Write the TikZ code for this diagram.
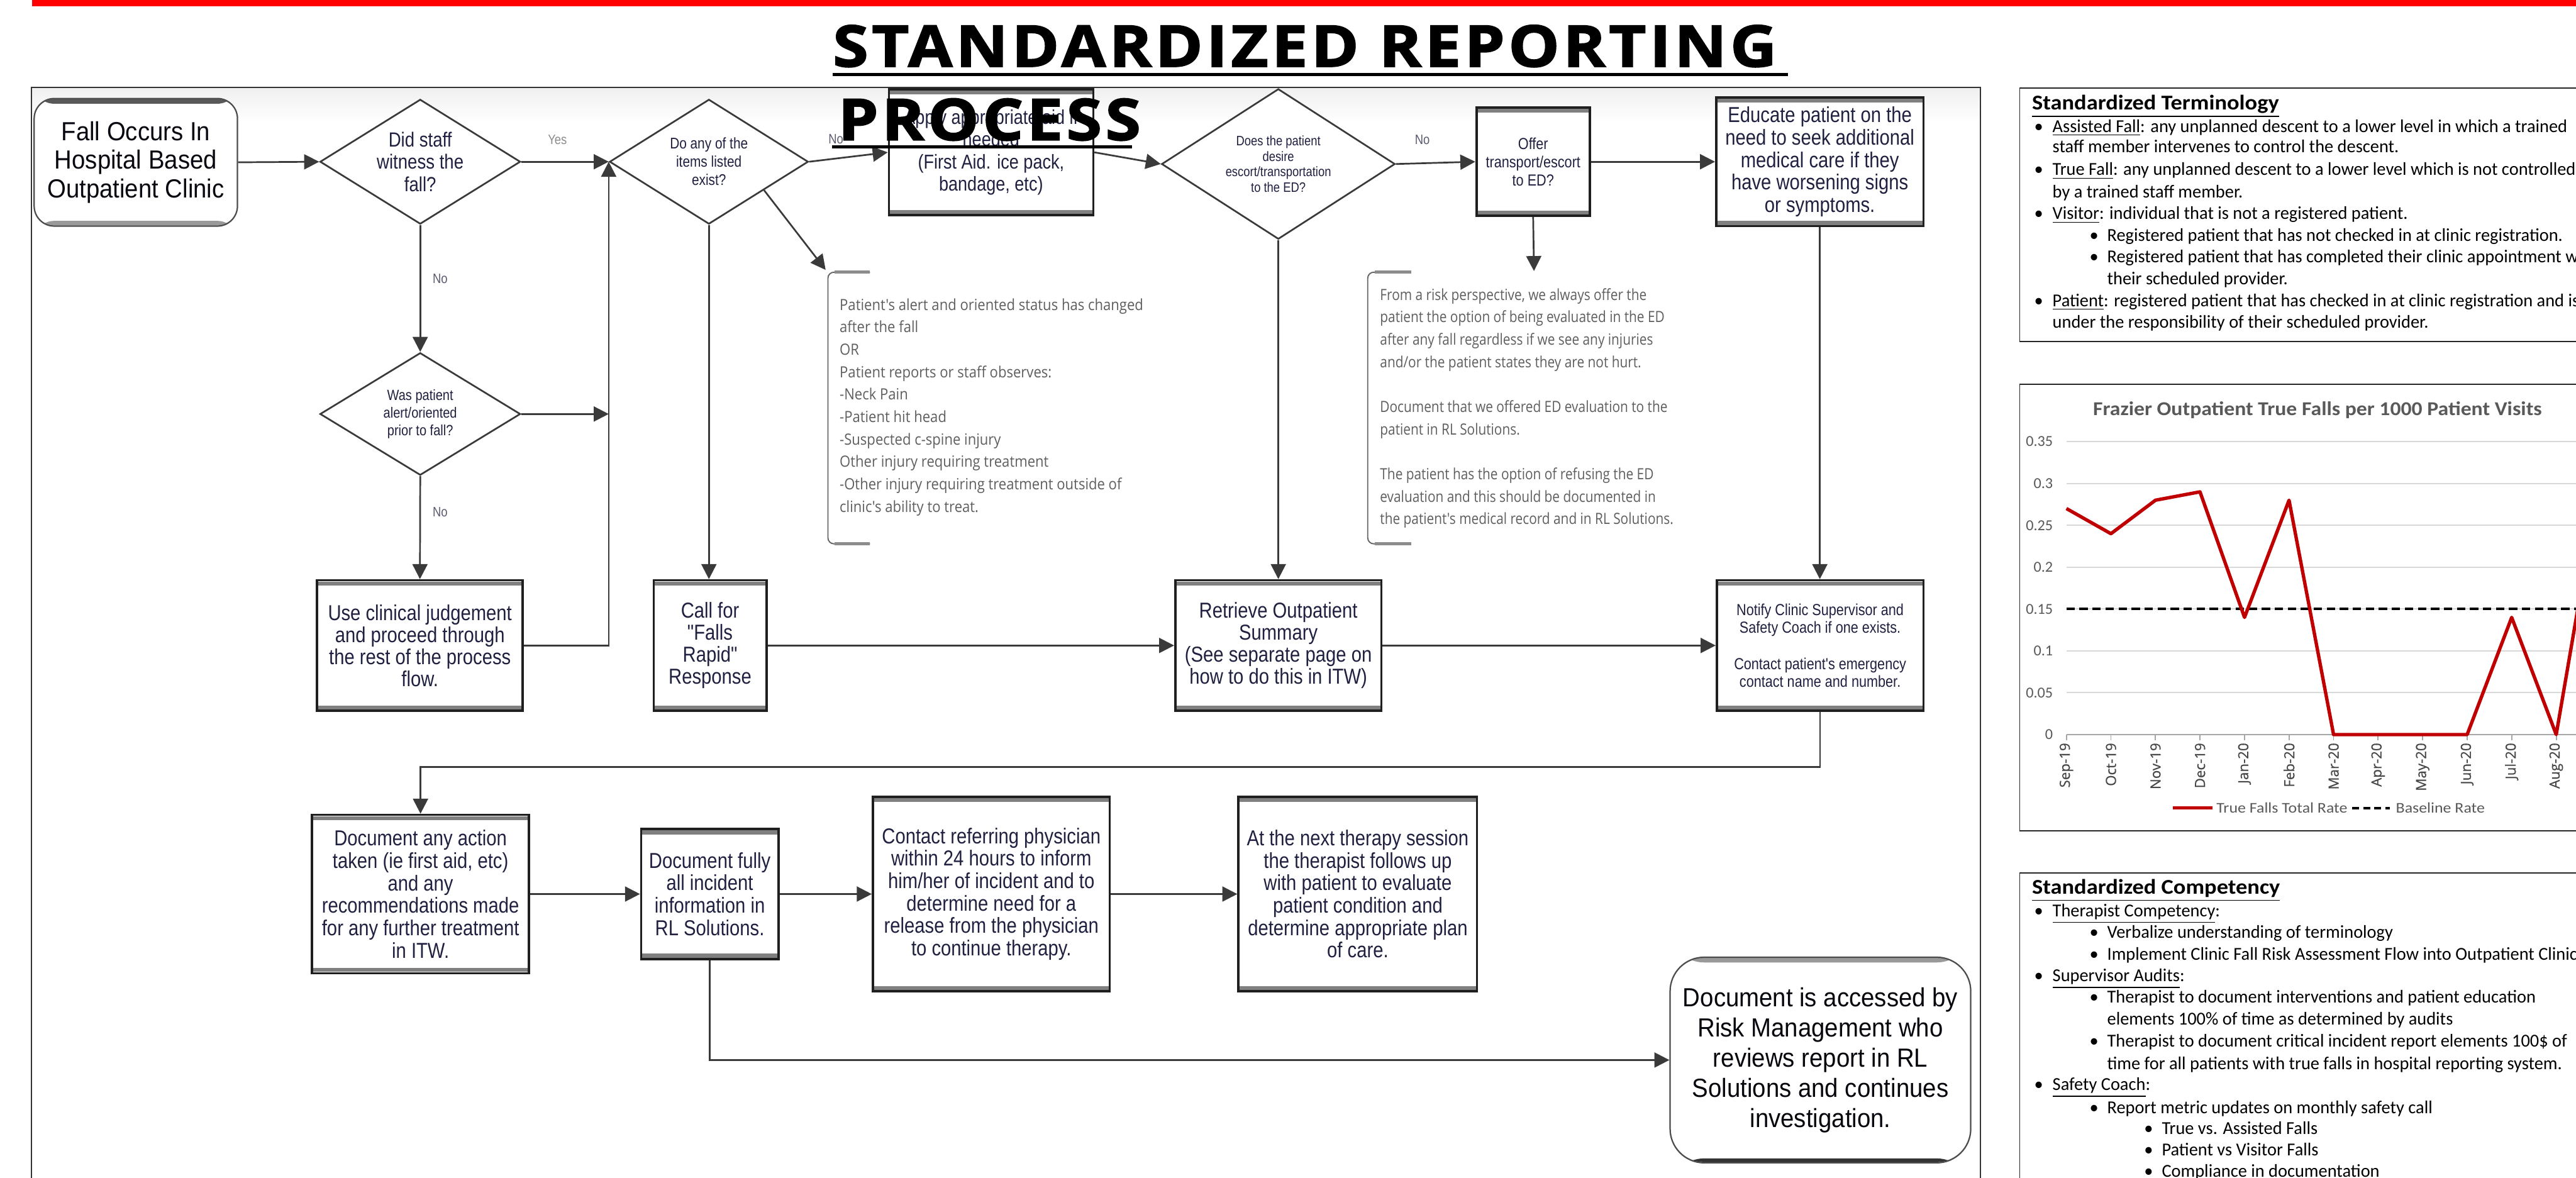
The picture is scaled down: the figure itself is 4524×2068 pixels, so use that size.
\documentclass[tikz,border=0pt]{standalone}
\usepackage{fontspec}
\setmainfont{Liberation Sans}
\newfontfamily\flowfont[FakeStretch=0.85]{Liberation Sans}
\newfontfamily\bigfont[FakeStretch=0.92]{Liberation Sans}
\newfontfamily\annfont[FakeStretch=0.9]{Open Sans}
\newfontfamily\annfontb[FakeStretch=0.85]{Open Sans}
\newfontfamily\calfont[FakeStretch=0.98]{Carlito}
\newfontfamily\calhead[FakeStretch=1.09]{Carlito}
\newfontfamily\calchart[FakeStretch=1.08]{Carlito}
\newfontfamily\callegend[FakeStretch=1.1]{Carlito}
\newfontfamily\calaxis{Carlito}
\newfontfamily\axisfont[FakeBold=0.6]{Open Sans}
\newfontfamily\titlefont[FakeStretch=1.12,FakeBold=2,LetterSpace=6]{Open Sans}
\usetikzlibrary{shapes.geometric,arrows.meta,calc}
\newcommand\setfs[2]{\fontsize{#1}{#2}\selectfont}
\definecolor{navy}{HTML}{202040}
\definecolor{annot}{HTML}{5F5F5F}
\definecolor{chartgray}{HTML}{595959}
\definecolor{gridgray}{HTML}{D9D9D9}
\definecolor{chartred}{HTML}{C00000}
\definecolor{conn}{HTML}{3A3A3A}
\definecolor{lblcol}{HTML}{5A5A70}
\definecolor{topred}{HTML}{FF0000}
\begin{document}
\begin{tikzpicture}[x=0.01cm,y=-0.01cm,
  boxsize/.style 2 args={minimum width=#1*0.01cm,minimum height=#2*0.01cm},
  flowtxt/.style={text=navy,align=center,inner sep=0pt},
  procbox/.style={rectangle,draw=black!88,line width=1.15pt,fill=white,flowtxt,
    path picture={
      \fill[black!50] ([yshift=-0.6pt]path picture bounding box.north west) rectangle ([yshift=-2.6pt]path picture bounding box.north east);
      \fill[black!50] ([yshift=0.6pt]path picture bounding box.south west) rectangle ([yshift=2.6pt]path picture bounding box.south east);}},
  decision/.style={diamond,draw=conn,line width=0.85pt,fill=white,aspect=1.6,flowtxt},
  startbox/.style={rectangle,rounded corners=10pt,draw=black!70,line width=0.7pt,fill=white,align=center,inner sep=0pt,text=black!75!navy,
    path picture={
      \fill[black!65] ([yshift=-0.3pt]path picture bounding box.north west) rectangle ([yshift=-2.6pt]path picture bounding box.north east);
      \fill[black!40] ([yshift=0.3pt]path picture bounding box.south west) rectangle ([yshift=2.6pt]path picture bounding box.south east);}},
  riskbox/.style={rectangle,rounded corners=17pt,draw=black!70,line width=0.7pt,fill=white,align=center,inner sep=0pt,text=black!80!navy,
    path picture={
      \fill[black!40] ([yshift=-0.3pt]path picture bounding box.north west) rectangle ([yshift=-2.6pt]path picture bounding box.north east);
      \fill[black!80] ([yshift=0.3pt]path picture bounding box.south west) rectangle ([yshift=2.2pt]path picture bounding box.south east);}},
  arr/.style={draw=conn,line width=0.85pt,-{Triangle[length=7.5pt,width=7.5pt]}},
  lbl/.style={text=lblcol,font=\flowfont\setfs{6.8}{8},inner sep=0pt},
  anntext/.style={text=annot,font=\annfont\setfs{7.7}{11.2},align=left,inner sep=0pt},
  bracev/.style={draw=black!60,line width=0.6pt,rounded corners=3pt},
  braceend/.style={draw=black!45,line width=1.5pt},
  ptxt/.style={font=\calfont\setfs{9.1}{10},inner sep=0pt,anchor=base west},
  phead/.style={font=\calhead\bfseries\setfs{10.5}{11},inner sep=0pt,anchor=base west},
  pbox/.style={draw=black!85,line width=0.6pt},
  ctxt/.style={text=chartgray,inner sep=0pt},
]
\useasboundingbox (0,0) rectangle (4524,2068);
\clip (0,0) rectangle (4524,2068);
\fill[white] (0,0) rectangle (4524,2068);
% top red bar
\fill[topred] (56,0) rectangle (4524,11);
% flowchart frame
\shade[top color=black!6,bottom color=white] (56,155) rectangle (3477,215);
\draw[black!80,line width=0.6pt] (55,2080) -- (55,154) -- (3478,154) -- (3478,2080);

% ---------------- right panel ----------------
\draw[pbox] (3547,155) rectangle (4700,600);
\draw[pbox] (3547,675) rectangle (4700,1459);
\draw[pbox] (3547,1533) rectangle (4700,2200);

\node[phead] (th) at (3568,193) {\underline{Standardized Terminology}};
\node[ptxt] (tb1) at (3572,232) {•};
\node[ptxt] (tt1) at (3604,232) {\underline{Assisted Fall}: any unplanned descent to a lower level in which a trained};
\node[ptxt] (tt2) at (3604,268) {staff member intervenes to control the descent.};
\node[ptxt] (tb3) at (3572,308) {•};
\node[ptxt] (tt3) at (3604,308) {\underline{True Fall}: any unplanned descent to a lower level which is not controlled};
\node[ptxt] (tt4) at (3604,347) {by a trained staff member.};
\node[ptxt] (tb5) at (3572,385) {•};
\node[ptxt] (tt5) at (3604,385) {\underline{Visitor}: individual that is not a registered patient.};
\node[ptxt] (tb6) at (3669,423) {•};
\node[ptxt] (tt6) at (3700,423) {Registered patient that has not checked in at clinic registration.};
\node[ptxt] (tb7) at (3669,461) {•};
\node[ptxt] (tt7) at (3700,461) {Registered patient that has completed their clinic appointment with};
\node[ptxt] (tt8) at (3700,500) {their scheduled provider.};
\node[ptxt] (tb9) at (3572,538) {•};
\node[ptxt] (tt9) at (3604,538) {\underline{Patient}: registered patient that has checked in at clinic registration and is};
\node[ptxt] (tt10) at (3604,576) {under the responsibility of their scheduled provider.};

% chart
\node[ctxt,font=\calchart\bfseries\setfs{9.8}{11}] (ctitle) at (4070,720) {Frazier Outpatient True Falls per 1000 Patient Visits};
\foreach \v in {0.05,0.1,0.15,0.2,0.25,0.3,0.35}
  \draw[gridgray,line width=0.6pt] (3629,{1290-\v*1470}) -- (4700,{1290-\v*1470});
\draw[black!35,line width=0.6pt] (3629,1290) -- (4700,1290);
\foreach \v/\t [count=\k] in {0/0,0.05/0.05,0.1/0.1,0.15/0.15,0.2/0.2,0.25/0.25,0.3/0.3,0.35/0.35}
  \node[ctxt,anchor=east,font=\calaxis\setfs{7.6}{8}] (yl\k) at (3606,{1290-\v*1470}) {\t};
\foreach \m [count=\k from 0] in {Sep-19,Oct-19,Nov-19,Dec-19,Jan-20,Feb-20,Mar-20,Apr-20,May-20,Jun-20,Jul-20,Aug-20,Sep-20}{
  \draw[black!35,line width=0.6pt] ({3629+\k*78.2},1290) -- ({3629+\k*78.2},1300);
  \node[text=black!72,inner sep=0pt,rotate=90,anchor=east,font=\axisfont\setfs{7}{8}] (xl\k) at ({3629+\k*78.2},1304) {\m};
}
\draw[black,line width=1.3pt,dash pattern=on 4.2pt off 2.3pt] (3629,1069.5) -- (4700,1069.5);
\draw[chartred,line width=1.7pt,line join=round] (3629,893) -- (3707.2,937.2) -- (3785.4,878.4) -- (3863.6,863.7) -- (3941.8,1084.2) -- (4020,878.4) -- (4098.2,1290) -- (4176.4,1290) -- (4254.6,1290) -- (4332.8,1290) -- (4411,1084.2) -- (4489.2,1290) -- (4567.4,834.3);
\draw[chartred,line width=1.7pt] (3816,1419) -- (3885,1419);
\node[ctxt,anchor=west,font=\callegend\setfs{7.4}{9}] (lg1) at (3892,1419) {True Falls Total Rate};
\draw[black,line width=1.1pt,dash pattern=on 3.5pt off 2pt] (4131,1419) -- (4197,1419);
\node[ctxt,anchor=west,font=\callegend\setfs{7.4}{9}] (lg2) at (4207,1419) {Baseline Rate};

\node[phead] (ch) at (3568,1570) {\underline{Standardized Competency}};
\node[ptxt] (cb1) at (3572,1610) {•};
\node[ptxt] (ct1) at (3604,1610) {\underline{Therapist Competency}:};
\node[ptxt] (cb2) at (3669,1647) {•};
\node[ptxt] (ct2) at (3700,1647) {Verbalize understanding of terminology};
\node[ptxt] (cb3) at (3669,1686) {•};
\node[ptxt] (ct3) at (3700,1686) {Implement Clinic Fall Risk Assessment Flow into Outpatient Clinic};
\node[ptxt] (cb4) at (3572,1724) {•};
\node[ptxt] (ct4) at (3604,1724) {\underline{Supervisor Audits}:};
\node[ptxt] (cb5) at (3669,1761) {•};
\node[ptxt] (ct5) at (3700,1761) {Therapist to document interventions and patient education};
\node[ptxt] (ct6) at (3700,1800) {elements 100\% of time as determined by audits};
\node[ptxt] (cb7) at (3669,1838) {•};
\node[ptxt] (ct7) at (3700,1838) {Therapist to document critical incident report elements 100\$ of};
\node[ptxt] (ct8) at (3700,1878) {time for all patients with true falls in hospital reporting system.};
\node[ptxt] (cb9) at (3572,1915) {•};
\node[ptxt] (ct9) at (3604,1915) {\underline{Safety Coach}:};
\node[ptxt] (cb10) at (3669,1955) {•};
\node[ptxt] (ct10) at (3700,1955) {Report metric updates on monthly safety call};
\node[ptxt] (cb11) at (3765,1992) {•};
\node[ptxt] (ct11) at (3796,1992) {True vs. Assisted Falls};
\node[ptxt] (cb12) at (3765,2030) {•};
\node[ptxt] (ct12) at (3796,2030) {Patient vs Visitor Falls};
\node[ptxt] (cb13) at (3765,2067) {•};
\node[ptxt] (ct13) at (3796,2067) {Compliance in documentation};

% ---------------- flowchart nodes ----------------
\node[startbox,boxsize={357}{224},font=\bigfont\setfs{13.1}{14.2}] (start) at (238.5,285) {Fall Occurs In\\Hospital Based\\Outpatient Clinic};
\node[decision,boxsize={352}{219},font=\flowfont\setfs{10.2}{11.1}] (d1) at (738,284) {Did staff\\witness the\\fall?};
\node[decision,boxsize={352}{215},font=\flowfont\setfs{7.4}{8.8}] (d3) at (738,727) {Was patient\\alert/oriented\\prior to fall?};
\node[decision,boxsize={349}{219},font=\flowfont\setfs{7.7}{9.1}] (d2) at (1245,284) {Do any of the\\items listed\\exist?};
\node[decision,boxsize={410}{264},font=\flowfont\setfs{6.8}{7.8}] (d4) at (2245,288) {Does the patient\\desire\\escort/transportation\\to the ED?};
\node[procbox,boxsize={359}{221},font=\flowfont\setfs{10}{11.1}] (fa) at (1740.5,267.5) {Apply appropriate aid if\\needed\\(First Aid. ice pack,\\bandage, etc)};
\node[procbox,boxsize={199}{190},font=\flowfont\setfs{8}{9.1}] (offer) at (2692.5,284) {Offer\\transport/escort\\to ED?};
\node[procbox,boxsize={364}{226},font=\flowfont\setfs{10.8}{11.2}] (edu) at (3196,284) {Educate patient on the\\need to seek additional\\medical care if they\\have worsening signs\\or symptoms.};
\node[procbox,boxsize={361}{229},font=\flowfont\setfs{10.8}{11}] (use) at (737.5,1133.5) {Use clinical judgement\\and proceed through\\the rest of the process\\flow.};
\node[procbox,boxsize={198}{229},font=\flowfont\setfs{10.8}{11}] (call) at (1247,1133.5) {Call for\\"Falls\\Rapid"\\Response};
\node[procbox,boxsize={362}{229},font=\flowfont\setfs{10.8}{11}] (ret) at (2245,1133.5) {Retrieve Outpatient\\Summary\\(See separate page on\\how to do this in ITW)};
\node[procbox,boxsize={363}{229},font=\flowfont\setfs{8}{9}] (notify) at (3196.5,1133.5) {Notify Clinic Supervisor and\\Safety Coach if one exists.\\[9pt]Contact patient's emergency\\contact name and number.};
\node[procbox,boxsize={381}{278},font=\flowfont\setfs{10.8}{11.2}] (doc1) at (738.5,1570) {Document any action\\taken (ie first aid, etc)\\and any\\recommendations made\\for any further treatment\\in ITW.};
\node[procbox,boxsize={241}{228},font=\flowfont\setfs{10.8}{11.2}] (doc2) at (1246.5,1570) {Document fully\\all incident\\information in\\RL Solutions.};
\node[procbox,boxsize={416}{342},font=\flowfont\setfs{10.8}{11.2}] (contact) at (1741,1570) {Contact referring physician\\within 24 hours to inform\\him/her of incident and to\\determine need for a\\release from the physician\\to continue therapy.};
\node[procbox,boxsize={419}{342},font=\flowfont\setfs{10.8}{11.2}] (next) at (2384.5,1570) {At the next therapy session\\the therapist follows up\\with patient to evaluate\\patient condition and\\determine appropriate plan\\of care.};
\node[riskbox,boxsize={528}{361},font=\bigfont\setfs{13.1}{15.1}] (risk) at (3197,1861.5) {Document is accessed by\\Risk Management who\\reviews report in RL\\Solutions and continues\\investigation.};

% labels
\node[lbl,text=black!45] (lyes) at (979,245) {Yes};
\node[lbl] (lno1) at (773,489) {No};
\node[lbl] (lno2) at (773,899) {No};
\node[lbl] (lno3) at (1468,244) {No};
\node[lbl] (lno4) at (2498,245) {No};

% annotations
\node[anntext,anchor=west] (ann1) at (1474,715) {Patient's alert and oriented status has changed\\after the fall\\OR\\Patient reports or staff observes:\\-Neck Pain\\-Patient hit head\\-Suspected c-spine injury\\Other injury requiring treatment\\-Other injury requiring treatment outside of\\clinic's ability to treat.};
\node[anntext,font=\annfontb\setfs{7.7}{11.2},anchor=west] (ann2) at (2423,717) {From a risk perspective, we always offer the\\patient the option of being evaluated in the ED\\after any fall regardless if we see any injuries\\and/or the patient states they are not hurt.\\[11.2pt]Document that we offered ED evaluation to the\\patient in RL Solutions.\\[11.2pt]The patient has the option of refusing the ED\\evaluation and this should be documented in\\the patient's medical record and in RL Solutions.};
\draw[bracev] (1528,478) -- (1454,478) -- (1454,955) -- (1528,955);
\draw[braceend] (1466,478) -- (1528,478);
\draw[braceend] (1466,955) -- (1528,955);
\draw[bracev] (2478,478) -- (2402,478) -- (2402,955) -- (2478,955);
\draw[braceend] (2414,478) -- (2478,478);
\draw[braceend] (2414,955) -- (2478,955);
\coordinate (b1) at (1450,474);
\coordinate (b2) at (2694,476);
\coordinate (c1) at (738.5,1347);

% ---------------- connectors ----------------
\draw[arr] (start.east) -- (d1.west);
\draw[arr] (d1.east) -- (d2.west);
\draw[arr] (d1.south) -- (d3.north);
\draw[arr] (d3.south) -- (use.north);
\draw[arr] (d3.east) -- (d2.west |- d3.east);
\draw[arr] (use.east) -| (d2.west);
\draw[arr] (d2.south) -- (d2.south |- call.north);
\draw[arr] (d2.east) -- (fa.west);
\draw[arr] ($(d2.east)!0.45!(d2.south)$) -- (b1);
\draw[arr] (fa.east) -- (d4.west);
\draw[arr] (d4.east) -- (offer.west);
\draw[arr] (offer.east) -- (edu.west);
\draw[arr] (offer.south) -- (b2);
\draw[arr] (d4.south) -- (ret.north);
\draw[arr] (edu.south) -- (edu.south |- notify.north);
\draw[arr] (call.east) -- (ret.west);
\draw[arr] (ret.east) -- (notify.west);
\draw[arr] (notify.south) |- (c1) -- (doc1.north);
\draw[arr] (doc1.east) -- (doc2.west);
\draw[arr] (doc2.east) -- (contact.west);
\draw[arr] (contact.east) -- (next.west);
\draw[arr] (doc2.south) |- (risk.west);

% ---------------- title ----------------
\node[anchor=base west,inner sep=0pt,font=\titlefont\bfseries\setfs{28.7}{30}] (title1) at (1462,117) {STANDARDIZED REPORTING};
\node[anchor=base west,inner sep=0pt,font=\titlefont\bfseries\setfs{28.7}{30}] (title2) at (1471,246) {PROCESS};
\fill[black] (1462,128) rectangle (3140,134);
\fill[black] (1461,255) rectangle (1988,261);
\end{tikzpicture}
\end{document}
